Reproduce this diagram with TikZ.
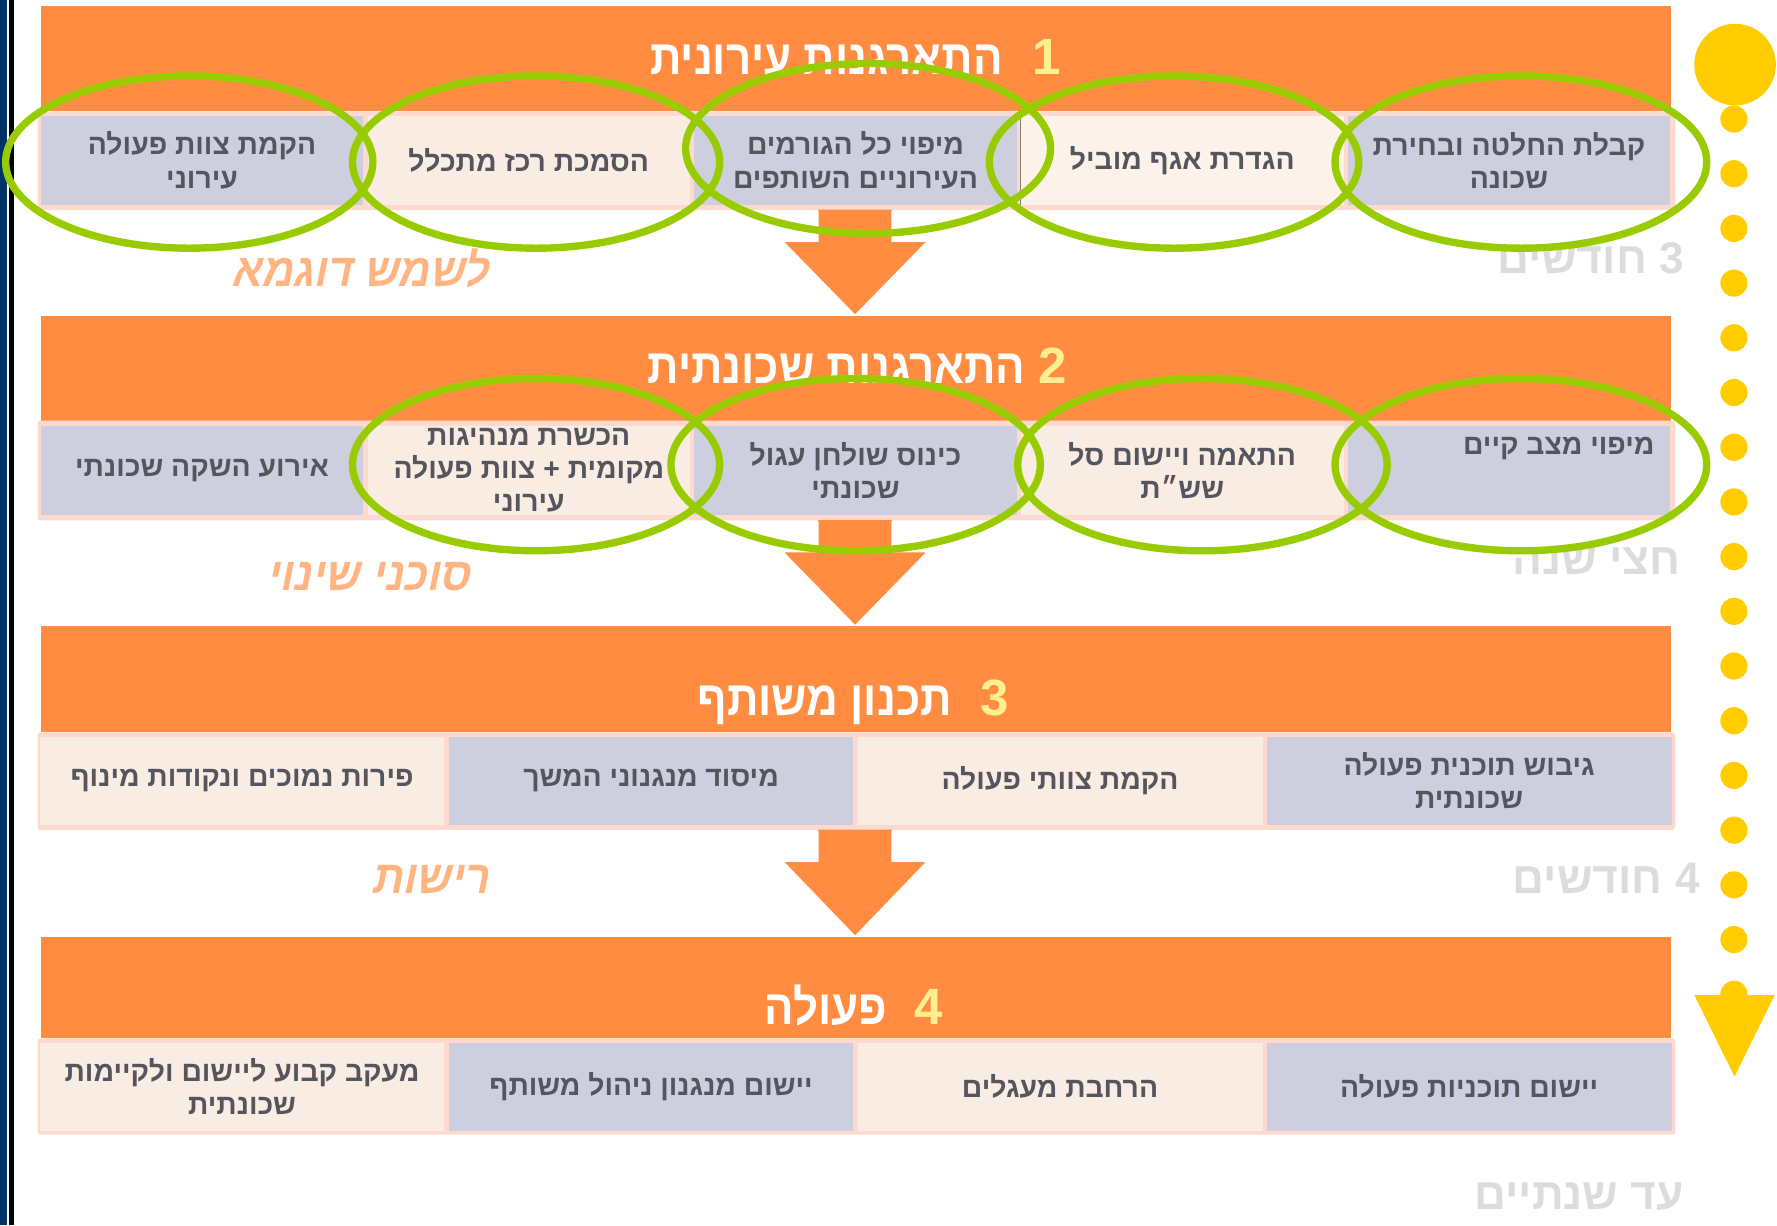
\documentclass[tikz,border=0pt]{standalone}
\usepackage{fontspec}
\setmainfont{Liberation Sans}[Script=Hebrew]
\newfontfamily\slantheb{Liberation Sans Bold}[Script=Hebrew,FakeSlant=0.2,FakeStretch=0.93]
\newfontfamily\titleheb{Liberation Sans Bold}[Script=Hebrew,FakeStretch=0.9]
\TeXXeTstate=1
\newcommand{\rl}[1]{\beginR#1\endR}
\definecolor{bandorange}{HTML}{FF8C40}
\definecolor{framepink}{HTML}{FDDACD}
\definecolor{lav}{HTML}{CDCFDF}
\definecolor{cream}{HTML}{F8ECE3}
\definecolor{creamlight}{HTML}{FCF2EA}
\definecolor{boxtext}{HTML}{54555D}
\definecolor{ringgreen}{HTML}{99CC00}
\definecolor{dotyellow}{HTML}{FFCC00}
\definecolor{numyellow}{HTML}{FFEF8F}
\definecolor{greytext}{HTML}{DCDCDC}
\definecolor{labelorange}{HTML}{FFB482}
\definecolor{navy}{HTML}{003366}
\begin{document}
\begin{tikzpicture}[x=1pt,y=-1pt,
  boxbase/.style={draw=none, inner sep=0pt, minimum height=78pt, align=center, text=boxtext, font=\fontsize{25}{29.4}\selectfont\bfseries},
  lavfive/.style={boxbase, fill=lav, minimum width=284.6pt},
  creamfive/.style={boxbase, fill=cream, minimum width=284.6pt},
  lavfour/.style={boxbase, fill=lav, minimum width=357.2pt},
  creamfour/.style={boxbase, fill=cream, minimum width=357.2pt},
  band/.style={fill=bandorange, draw=none, inner sep=0pt, minimum width=1438pt, anchor=north west},
  rowframe/.style={fill=framepink, draw=none, rounded corners=2.5pt, inner sep=0pt, minimum width=1445pt, anchor=north west},
  title/.style={text=white, font=\fontsize{43}{48}\selectfont\titleheb, inner sep=0pt, anchor=base east},
  num/.style={text=numyellow, font=\fontsize{45}{48}\selectfont\bfseries, inner sep=0pt, anchor=base west},
  duration/.style={text=greytext, font=\fontsize{39}{42}\selectfont\bfseries, inner sep=0pt, anchor=base east},
  role/.style={text=labelorange, font=\fontsize{41}{46}\selectfont\slantheb, inner sep=0pt, anchor=base east},
  freetext/.style={text=boxtext, font=\fontsize{25}{29.4}\selectfont\bfseries, inner sep=0pt, anchor=base east},
  flow/.style={fill=bandorange},
  flowedge/.style={draw=white, line width=0.8pt},
  ring/.style={draw=ringgreen, line width=6.5pt},
  dot/.style={fill=dotyellow},
]
\useasboundingbox (0,0) rectangle (1568,1081);
% left bar
\fill[navy] (0,0) rectangle (6.2,1081);
\fill[black] (7.6,0) rectangle (12.4,1081);

% ---------- section 1
\node[band, minimum height=93pt] (band1) at (36,5) {};
\node[rowframe, minimum height=87pt] (row1) at (33,98) {};
\node[lavfive] (s1b5) at (178.3,141.5) {\rl{הקמת צוות פעולה}\\\rl{עירוני}};
\node[creamfive] (s1b4) at (466.6,141.5) {\rl{הסמכת רכז מתכלל}};
\node[lavfive] (s1b3) at (754.9,141.5) {\rl{מיפוי כל הגורמים}\\\rl{העירוניים השותפים}};
\node[creamfive, fill=creamlight] (s1b2) at (1043.2,141.5) {\rl{הגדרת אגף מוביל}};
\node[lavfive] (s1b1) at (1331.5,141.5) {\rl{קבלת החלטה ובחירת}\\\rl{שכונה}};
\draw[gray, line width=0.8pt] (s1b2.north west) -- (s1b2.south west);

% ---------- section 2
\node[band, minimum height=92pt] (band2) at (36,279) {};
\node[rowframe, minimum height=88pt] (row2) at (33,371) {};
\node[lavfive] (s2b5) at (178.3,415) {\rl{אירוע השקה שכונתי}};
\node[creamfive] (s2b4) at (466.6,415) {\rl{הכשרת מנהיגות}\\\rl{מקומית + צוות פעולה}\\\rl{עירוני}};
\node[lavfive] (s2b3) at (754.9,415) {\rl{כינוס שולחן עגול}\\\rl{שכונתי}};
\node[creamfive] (s2b2) at (1043.2,415) {\rl{התאמה ויישום סל}\\\rl{שש״ת}};
\node[lavfive] (s2b1) at (1331.5,415) {};
\node[freetext] (s2b1t) at (1460,401) {\rl{מיפוי מצב קיים}};

% ---------- section 3
\node[band, minimum height=94pt] (band3) at (36,552) {};
\node[rowframe, minimum height=86pt] (row3) at (33,646) {};
\node[creamfour] (s3b4) at (213.6,689) {\rl{פירות נמוכים ונקודות מינוף}};
\node[lavfour] (s3b3) at (574.5,689) {\rl{מיסוד מנגנוני המשך}};
\node[creamfour] (s3b2) at (935.4,689) {\rl{הקמת צוותי פעולה}};
\node[lavfour] (s3b1) at (1296.3,689) {\rl{גיבוש תוכנית פעולה}\\\rl{שכונתית}};

% ---------- section 4
\node[band, minimum height=89pt] (band4) at (36,827) {};
\node[rowframe, minimum height=85pt] (row4) at (33,916) {};
\node[creamfour] (s4b4) at (213.6,959) {\rl{מעקב קבוע ליישום ולקיימות}\\\rl{שכונתית}};
\node[lavfour] (s4b3) at (574.5,959) {\rl{יישום מנגנון ניהול משותף}};
\node[creamfour] (s4b2) at (935.4,959) {\rl{הרחבת מעגלים}};
\node[lavfour] (s4b1) at (1296.3,959) {\rl{יישום תוכניות פעולה}};

% ---------- block arrows
\foreach \top/\tip in {185/278, 459/552, 732/826}{
  \fill[flow] (722,\top) -- (787,\top) -- (787,\top+28) -- (818,\top+28) -- (754.5,\tip) -- (691,\top+28) -- (722,\top+28) -- cycle;
  \draw[flowedge] (787,\top+1) -- (787,\top+28) -- (818,\top+28) -- (754.5,\tip) -- (691,\top+28) -- (722,\top+28) -- (722,\top+1);
}

% ---------- titles
\node[title] (t1) at (885,66) {\rl{התארגנות עירונית}};
\node[num] (n1) at (911,66) {1};
\node[title] (t2) at (905,338) {\rl{התארגנות שכונתית}};
\node[num] (n2) at (916,338) {2};
\node[title] (t3) at (840,631) {\rl{תכנון משותף}};
\node[num] (n3) at (865,631) {3};
\node[title] (t4) at (783,904) {\rl{פעולה}};
\node[num] (n4) at (807,904) {4};

% ---------- durations
\node[duration] (d1) at (1486,241) {\rl{3 חודשים}};
\node[duration] (d2) at (1483,507) {\rl{חצי שנה}};
\node[duration] (d3) at (1500,788) {\rl{4 חודשים}};
\node[duration] (d4) at (1486,1067) {\rl{עד שנתיים}};

% ---------- roles
\node[role] (r1) at (431,253) {\rl{לשמש דוגמא}};
\node[role] (r2) at (415,521) {\rl{סוכני שינוי}};
\node[role] (r3) at (431,788) {\rl{רישות}};

% ---------- timeline
\fill[dot] (1531,57) circle [radius=36pt];
\foreach \i in {0,...,16}{
  \fill[dot] (1530,105+48.27*\i) circle [radius=12pt];
}
\fill[dot] (1495,878) -- (1566,878) -- (1530.5,950) -- cycle;

% ---------- green rings
\draw[ring] (167,143) ellipse [x radius=162pt, y radius=76pt];
\draw[ring] (473,143) ellipse [x radius=162pt, y radius=76pt];
\draw[ring] (766,131) ellipse [x radius=161pt, y radius=75pt];
\draw[ring] (1036,143) ellipse [x radius=163pt, y radius=76pt];
\draw[ring] (1342,143) ellipse [x radius=164pt, y radius=76pt];
\draw[ring] (473,410) ellipse [x radius=162pt, y radius=76pt];
\draw[ring] (755,410) ellipse [x radius=163pt, y radius=76pt];
\draw[ring] (1061,410) ellipse [x radius=163pt, y radius=76pt];
\draw[ring] (1342,410) ellipse [x radius=164pt, y radius=76pt];
\end{tikzpicture}
\end{document}
